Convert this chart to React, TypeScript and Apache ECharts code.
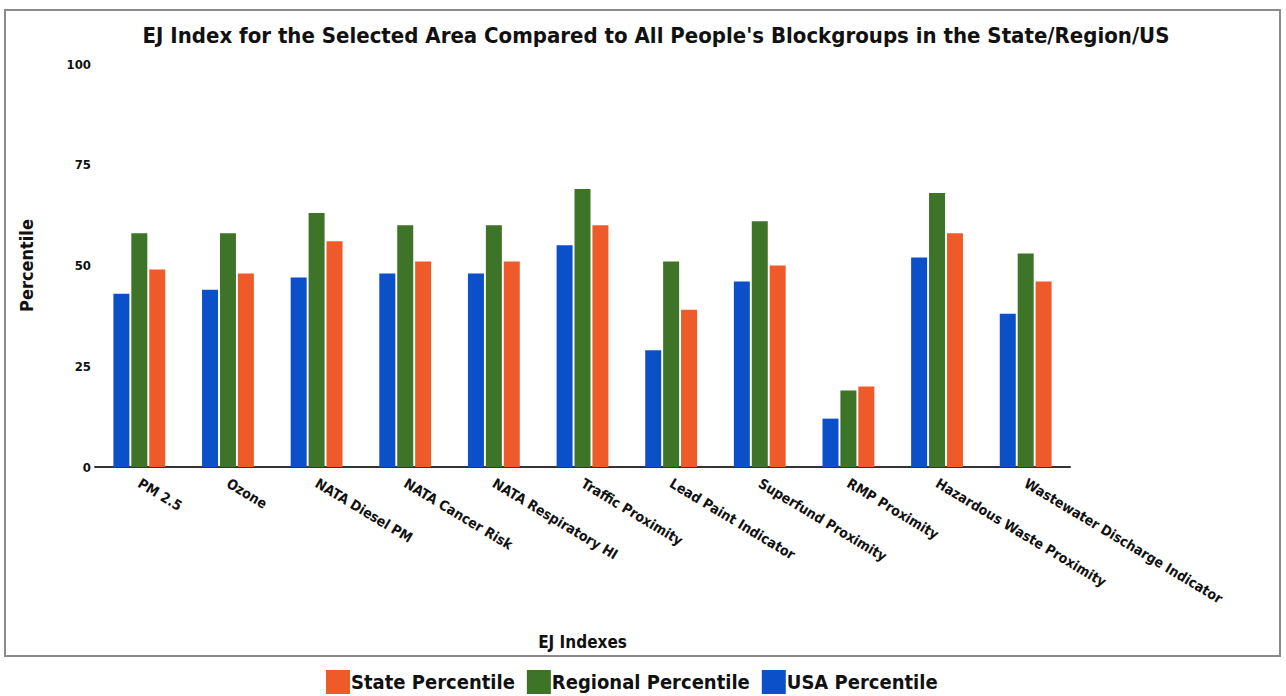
import React, { useEffect, useRef } from "react";
import * as echarts from "echarts";

const categories = [
  "PM 2.5",
  "Ozone",
  "NATA Diesel PM",
  "NATA Cancer Risk",
  "NATA Respiratory HI",
  "Traffic Proximity",
  "Lead Paint Indicator",
  "Superfund Proximity",
  "RMP Proximity",
  "Hazardous Waste Proximity",
  "Wastewater Discharge Indicator",
];
const usaPercentile = [43, 44, 47, 48, 48, 55, 29, 46, 12, 52, 38];
const regionalPercentile = [58, 58, 63, 60, 60, 69, 51, 61, 19, 68, 53];
const statePercentile = [49, 48, 56, 51, 51, 60, 39, 50, 20, 58, 46];
const yTicks = [0, 25, 50, 75, 100];

const FONT = "'DejaVu Sans Condensed', 'DejaVu Sans', sans-serif";

export default function App() {
  const ref = useRef<HTMLDivElement>(null);
  useEffect(() => {
    document.body.style.margin = "0";
    const chart = echarts.init(ref.current!, null, { renderer: "svg" });
    chart.setOption({
      animation: false,
      backgroundColor: "#ffffff",
      title: {
        text: "EJ Index for the Selected Area Compared to All People's Blockgroups in the State/Region/US",
        left: 651,
        textAlign: "center",
        top: 19,
        textStyle: { fontFamily: FONT, fontSize: 22, fontWeight: "bold", color: "#111" },
      },
      legend: {
        data: ["State Percentile", "Regional Percentile", "USA Percentile"],
        left: 321,
        top: 665,
        itemWidth: 24,
        itemHeight: 24,
        itemGap: 12,
        icon: "rect",
        textStyle: { fontFamily: FONT, fontSize: 20, fontWeight: "bold", color: "#111", padding: [0, 0, 0, -4] },
      },
      graphic: [
        {
          type: "rect",
          shape: { x: 5, y: 10, width: 1275, height: 646 },
          style: { fill: "none", stroke: "#8a8a8a", lineWidth: 2 },
          silent: true,
        },
      ],
      grid: { left: 95, right: 216, top: 64, bottom: 229 },
      xAxis: {
        type: "category",
        data: categories,
        name: "EJ Indexes",
        nameLocation: "middle",
        nameGap: 166,
        nameTextStyle: { fontFamily: FONT, fontSize: 17, fontWeight: "bold", color: "#111" },
        axisLine: { lineStyle: { color: "#333", width: 2 } },
        axisTick: { show: false },
        axisLabel: {
          rotate: -31,
          interval: 0,
          fontFamily: FONT,
          fontSize: 14,
          fontWeight: "bold",
          color: "#111",
          margin: 15,
        },
      },
      yAxis: {
        type: "value",
        min: 0,
        max: 100,
        interval: 25,
        name: "Percentile",
        nameLocation: "middle",
        nameGap: 60,
        nameTextStyle: { fontFamily: FONT, fontSize: 18, fontWeight: "bold", color: "#111" },
        axisLine: { show: false },
        axisTick: { show: false },
        splitLine: { show: false },
        axisLabel: {
          fontFamily: FONT,
          fontSize: 13,
          fontWeight: "bold",
          color: "#111",
          margin: 4,
          customValues: yTicks,
        },
      },
      series: [
        {
          name: "USA Percentile",
          type: "bar",
          data: usaPercentile,
          itemStyle: { color: "#0b50c8" },
          barWidth: 16,
          barGap: "12%",
        },
        {
          name: "Regional Percentile",
          type: "bar",
          data: regionalPercentile,
          itemStyle: { color: "#3e7427" },
          barWidth: 16,
          barGap: "12%",
        },
        {
          name: "State Percentile",
          type: "bar",
          data: statePercentile,
          itemStyle: { color: "#ee5a2a" },
          barWidth: 16,
          barGap: "12%",
        },
      ],
    });
    return () => chart.dispose();
  }, []);
  return <div ref={ref} style={{ width: 1286, height: 696 }} />;
}
